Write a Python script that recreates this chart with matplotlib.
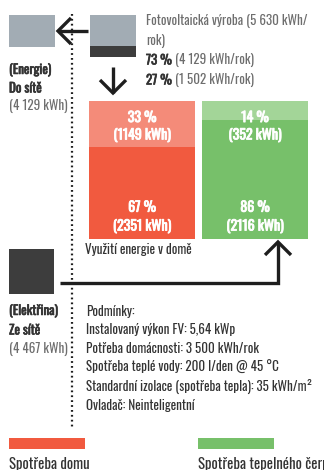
import matplotlib
matplotlib.use("Agg")
import matplotlib.pyplot as plt
import matplotlib.patheffects as pe
from matplotlib.patches import Rectangle

plt.rcParams['font.family'] = ['Oswald', 'DejaVu Sans']

# energy flows (kWh / year)
pv_total = 5630
pv_shares = [73, 27]            # exported to grid, used in house
pv_kwh = [4129, 1502]
grid_export = 4129
grid_import = 4467

categories = ['Spotřeba domu', 'Spotřeba tepelného čerpadla']
direct_pct = [67, 86]           # covered from the grid
direct_kwh = [2351, 2116]
pv_pct = [33, 14]               # covered from PV
pv_use_kwh = [1149, 352]

conditions = [
    'Podmínky:',
    'Instalovaný výkon FV: 5,64 kWp',
    'Potřeba domácnosti: 3 500 kWh/rok',
    'Spotřeba teplé vody: 200 l/den @ 45 °C',
    'Standardní izolace (spotřeba tepla): 35 kWh/m²',
    'Ovladač: Neinteligentní',
]

RED, RED_LT = '#f15a3f', '#f48b79'
GREEN, GREEN_LT = '#77c06a', '#a3d598'
GREY, DARK = '#a2acb4', '#3d3d3d'
TXT, TXT_LT = '#333333', '#6e6e6e'

W, H = 324, 470
fig = plt.figure(figsize=(W / 100, H / 100), dpi=100)

# overlay in pixel coordinates for the diagram parts
ax = fig.add_axes([0, 0, 1, 1])
ax.set_xlim(0, W)
ax.set_ylim(H, 0)
ax.axis('off')


def bold(color, w=0.45):
    # the font has a single weight, so thicken it with a stroke
    return [pe.withStroke(linewidth=w, foreground=color)]


def chevron(x, y, dx, dy, size=13):
    # open arrow head with tip at (x, y) pointing along (dx, dy)
    px, py = -dy, dx
    ax.plot([x - dx * size + px * size, x, x - dx * size - px * size],
            [y - dy * size + py * size, y, y - dy * size - py * size],
            color='#1e1e1e', lw=2.4, solid_joinstyle='miter', solid_capstyle='butt')


def kwh(v):
    return f'{v:,}'.replace(',', ' ')


# PV box split by share
box_h = 42
top = 15
grey_h = box_h * pv_shares[0] / 100
ax.add_patch(Rectangle((90, top), 46, grey_h, color=GREY, lw=0))
ax.add_patch(Rectangle((90, top + grey_h), 46, box_h - grey_h, color=DARK, lw=0))

# grid boxes
ax.add_patch(Rectangle((9, 15), 46, 32, color=GREY, lw=0))
ax.add_patch(Rectangle((9, 249), 45, 45, color=DARK, lw=0))

# dotted separator
ax.plot([72, 72], [14, 428], color='#1e1e1e', lw=1.6, ls=(0, (0.8, 1.4)))

# arrows
ax.plot([58, 88], [31, 31], color='#1e1e1e', lw=2.4, solid_capstyle='butt')
chevron(58, 31, -1, 0)
ax.plot([113, 113], [67, 93], color='#1e1e1e', lw=2.4, solid_capstyle='butt')
chevron(113, 93, 0, 1)
ax.plot([60, 278, 278], [283, 283, 243], color='#1e1e1e', lw=2.4,
        solid_joinstyle='miter', solid_capstyle='butt')
chevron(278, 242, 0, -1)

fs = 9.4
ax.text(146, 21, f'Fotovoltaická výroba ({kwh(pv_total)} kWh/',
        fontsize=fs, color=TXT_LT, va='center')
ax.text(146, 41, 'rok)', fontsize=fs, color=TXT_LT, va='center')
for i, y in enumerate([60, 80]):
    t = ax.text(146, y, f'{pv_shares[i]} %', fontsize=fs, color=TXT,
                va='center', path_effects=bold(TXT))
    ax.annotate(f' ({kwh(pv_kwh[i])} kWh/rok)', xycoords=t,
                xy=(1, 0.5), va='center', fontsize=fs, color=TXT_LT)

ax.text(9, 70, '(Energie)', fontsize=fs, color=TXT, va='center', path_effects=bold(TXT))
ax.text(9, 88, 'Do sítě', fontsize=fs, color=TXT, va='center', path_effects=bold(TXT))
ax.text(9, 106, f'({kwh(grid_export)} kWh)', fontsize=fs,
        color=TXT_LT, va='center')

ax.text(9, 311, '(Elektřina)', fontsize=fs, color=TXT, va='center', path_effects=bold(TXT))
ax.text(9, 330, 'Ze sítě', fontsize=fs, color=TXT, va='center', path_effects=bold(TXT))
ax.text(9, 349, f'({kwh(grid_import)} kWh)', fontsize=fs,
        color=TXT_LT, va='center')

ax.text(85, 249, 'Využití energie v domě', fontsize=fs, color=TXT, va='center')

for i, line in enumerate(conditions):
    ax.text(86, 311 + i * 18.8, line, fontsize=fs, color=TXT, va='center')

# legend
for x, c, lab in [(9, RED, categories[0]), (198, GREEN, categories[1])]:
    ax.add_patch(Rectangle((x, 438), 76, 11, color=c, lw=0))
    ax.text(x, 465, lab, fontsize=10.6, color=TXT, va='center', clip_on=True)

# stacked bars
bx = fig.add_axes([89 / W, (H - 239) / H, (308 - 89) / W, 138 / H])
bx.set_xlim(0, 219)
bx.set_ylim(0, 100)
bx.axis('off')
xs = [0, 113]
bw = 106
bx.bar(xs, direct_pct, width=bw, align='edge', color=[RED, GREEN], lw=0)
bx.bar(xs, pv_pct, bottom=direct_pct, width=bw, align='edge',
       color=[RED_LT, GREEN_LT], lw=0)
bfs = 10
wb = bold('white', 0.6)
for x, dp, dk, pp, pk in zip(xs, direct_pct, direct_kwh, pv_pct, pv_use_kwh):
    cx = x + bw / 2
    bx.text(cx, 23, f'{dp} %', ha='center', va='center', color='white',
            fontsize=bfs, path_effects=wb)
    bx.text(cx, 9, f'({dk} kWh)', ha='center', va='center', color='white',
            fontsize=bfs, path_effects=wb)
    bx.text(cx, 88, f'{pp} %', ha='center', va='center', color='white',
            fontsize=bfs, path_effects=wb)
    bx.text(cx, 75, f'({pk} kWh)', ha='center', va='center', color='white',
            fontsize=bfs, path_effects=wb)

fig.savefig('out.png', dpi=100)
